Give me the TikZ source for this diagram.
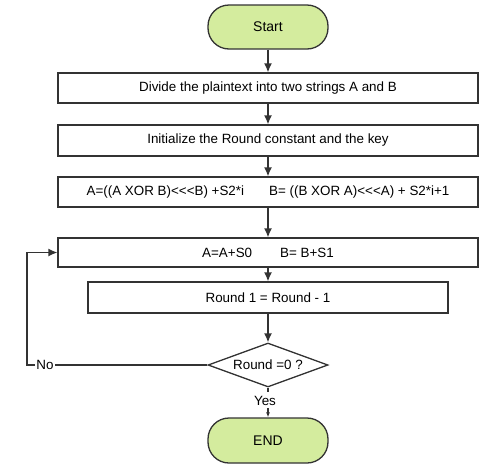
\documentclass[tikz,border=0pt]{standalone}
\usepackage{fontspec}
\newfontfamily\chartfont{Liberation Sans}
\usetikzlibrary{shapes.geometric,arrows.meta}
\definecolor{termgreen}{RGB}{212,236,158}
\definecolor{linegray}{RGB}{51,51,51}
\begin{document}
\begin{tikzpicture}[x=1pt, y=-1pt,
    every node/.style={font=\chartfont\fontsize{13.4}{15}\selectfont, inner sep=0pt},
    term/.style={draw=linegray, line width=1.3pt, fill=termgreen, rounded corners=21pt, minimum width=120pt, minimum height=44pt, font=\chartfont\fontsize{14}{16}\selectfont},
    procbox/.style={draw=linegray, line width=1.3pt, minimum width=420pt, minimum height=30pt},
    decide/.style={draw=linegray, line width=1.3pt, diamond, aspect=2.7, minimum width=120pt, minimum height=44pt},
    flow/.style={draw=linegray, line width=1.3pt, -{Latex[length=9pt,width=8pt]}}]

\useasboundingbox (0, 0) rectangle (493, 472);

% terminals
\node[term] (start) at (268, 27) {Start};
\node[term, minimum height=45pt] (end) at (268, 440.5) {END};

% steps
\node[procbox] (divide) at (268, 88) {Divide the plaintext into two strings A and B};
\node[procbox, minimum height=31pt] (init) at (268, 140.5) {Initialize the Round constant and the key};
\node[procbox] (mix) at (268, 192) {A=((A XOR B)<<<B) +S2*i\hspace{25pt}B= ((B XOR A)<<<A) + S2*i+1};
\node[procbox, minimum height=29pt] (addkey) at (268, 252.5) {A=A+S0\hspace{28pt}B= B+S1};
\node[procbox, minimum width=360pt, minimum height=31pt] (count) at (268, 297.5) {Round 1 = Round - 1};

% test
\node[decide] (check) at (268, 365) {Round =0 ?};
\node[fill=white, inner sep=1pt] (no) at (45, 365) {No};
\node (yes) at (265, 401) {Yes};
\coordinate (back) at (27, 365);

% arrows
\draw[flow] (start) -- (divide);
\draw[flow] (divide) -- (init);
\draw[flow] (init) -- (mix);
\draw[flow] (mix) -- (addkey);
\draw[flow] (addkey) -- (count);
\draw[flow] (count) -- (check);
\draw[draw=linegray, line width=1.3pt] (check.west) -- (no.east);
\draw[flow] (no.west) -- (back) |- (addkey.west);
\draw[draw=linegray, line width=1.3pt] (check.south) -- ++(0, 4);
\draw[flow, -{Latex[length=5pt,width=4pt]}] (yes.south -| check.south) ++(0, 2) -- (end.north);

\end{tikzpicture}
\end{document}
